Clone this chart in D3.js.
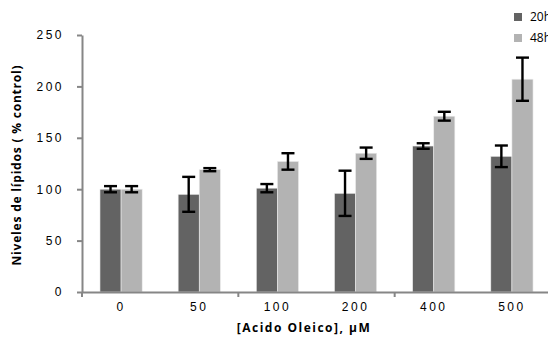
<!DOCTYPE html>
<html>
<head>
<meta charset="utf-8">
<script src="https://cdn.jsdelivr.net/npm/d3@7"></script>
<style>
  body { margin: 0; background: #fff; }
  svg { display: block; font-family: "Open Sans", "Liberation Sans", sans-serif; }
</style>
</head>
<body>
<div id="chart"></div>
<script>
// datos
const categories = ['0', '50', '100', '200', '400', '500'];
const series = ['20h', '48h'];
const values20h = [100, 95, 101, 96, 142, 132];
const errors20h = [3, 17, 4, 22, 2.7, 10.5];
const values48h = [100, 119, 127, 135, 171, 207];
const errors48h = [3, 1.5, 8, 5.5, 4.3, 21];
const yTicks = [0, 50, 100, 150, 200, 250];
const colors = ['#636363', '#b3b3b3'];

const width = 548, height = 341;
const margin = { top: 35, left: 82 };
const plotW = 469, plotH = 257;  // sale del borde derecho como en el original

const svg = d3.select('#chart').append('svg')
  .attr('width', width)
  .attr('height', height);

const g = svg.append('g')
  .attr('transform', `translate(${margin.left},${margin.top})`);

const x = d3.scaleBand()
  .domain(categories)
  .range([0, plotW])
  .paddingInner(0.46)
  .paddingOuter(0.23);

const xInner = d3.scaleBand()
  .domain(series)
  .range([0, x.bandwidth()]);

const y = d3.scaleLinear()
  .domain([0, 250])
  .range([plotH, 0]);

// barras
const data = categories.map((c, i) => ({
  cat: c,
  vals: [
    { s: '20h', v: values20h[i], e: errors20h[i], col: colors[0] },
    { s: '48h', v: values48h[i], e: errors48h[i], col: colors[1] }
  ]
}));

const groups = g.selectAll('.grp')
  .data(data)
  .enter()
  .append('g')
  .attr('transform', d => `translate(${x(d.cat)},0)`);

groups.selectAll('rect')
  .data(d => d.vals)
  .enter()
  .append('rect')
  .attr('x', d => xInner(d.s))
  .attr('y', d => y(d.v))
  .attr('width', xInner.bandwidth())
  .attr('height', d => y(0) - y(d.v))
  .attr('fill', d => d.col)
  .attr('stroke', '#ececec')
  .attr('stroke-width', 0.6);

// barras de error
const capW = 6.5;
const errs = groups.selectAll('.err')
  .data(d => d.vals)
  .enter()
  .append('g')
  .attr('stroke', '#000')
  .attr('stroke-width', 2.4);

errs.append('line')
  .attr('x1', d => xInner(d.s) + xInner.bandwidth() / 2)
  .attr('x2', d => xInner(d.s) + xInner.bandwidth() / 2)
  .attr('y1', d => y(d.v + d.e))
  .attr('y2', d => y(d.v - d.e));

[1, -1].forEach(sgn => {
  errs.append('line')
    .attr('x1', d => xInner(d.s) + xInner.bandwidth() / 2 - capW)
    .attr('x2', d => xInner(d.s) + xInner.bandwidth() / 2 + capW)
    .attr('y1', d => y(d.v + sgn * d.e))
    .attr('y2', d => y(d.v + sgn * d.e));
});

// ejes
const axisColor = '#868686';

const yAxis = g.append('g')
  .call(d3.axisLeft(y).tickValues(yTicks).tickSize(5).tickSizeOuter(0));
yAxis.select('.domain').attr('stroke', axisColor).attr('stroke-width', 2);
yAxis.selectAll('.tick line').attr('stroke', axisColor).attr('stroke-width', 2);
yAxis.selectAll('.tick text')
  .attr('x', -18)
  .attr('fill', '#000')
  .style('font-size', '12px')
  .style('letter-spacing', '2.5px');

const xAxis = g.append('g')
  .attr('transform', `translate(0,${plotH})`)
  .call(d3.axisBottom(x).tickSize(0).tickSizeOuter(0));
xAxis.select('.domain').attr('stroke', axisColor).attr('stroke-width', 2);
xAxis.selectAll('.tick text')
  .attr('dy', '1.1em')
  .attr('y', 6)
  .attr('fill', '#000')
  .style('font-size', '12px')
  .style('letter-spacing', '2.5px');

// marcas cada dos categorias
const step = x.step();
xAxis.selectAll('.bound')
  .data(d3.range(0, categories.length + 1, 2))
  .enter()
  .append('line')
  .attr('x1', d => d * step)
  .attr('x2', d => d * step)
  .attr('y1', 0)
  .attr('y2', 5)
  .attr('stroke', axisColor)
  .attr('stroke-width', 2);

// titulos
svg.append('text')
  .attr('transform', 'translate(21,165) rotate(-90)')
  .attr('text-anchor', 'middle')
  .style('font-size', '12px')
  .style('font-weight', 'bold')
  .style('letter-spacing', '0.8px')
  .text('Niveles de lípidos ( % control)');

svg.append('text')
  .attr('x', 304)
  .attr('y', 332)
  .attr('text-anchor', 'middle')
  .style('font-size', '12px')
  .style('font-weight', 'bold')
  .style('letter-spacing', '1.5px')
  .text('[Acido Oleico], μM');

// leyenda
const legend = svg.append('g')
  .attr('transform', 'translate(514,13)');
series.forEach((s, i) => {
  legend.append('rect')
    .attr('x', 0)
    .attr('y', i * 21)
    .attr('width', 8)
    .attr('height', 8)
    .attr('fill', colors[i]);
  legend.append('text')
    .attr('x', 16)
    .attr('y', i * 21 + 8)
    .style('font-size', '12px')
    .text(s);
});
</script>
</body>
</html>
